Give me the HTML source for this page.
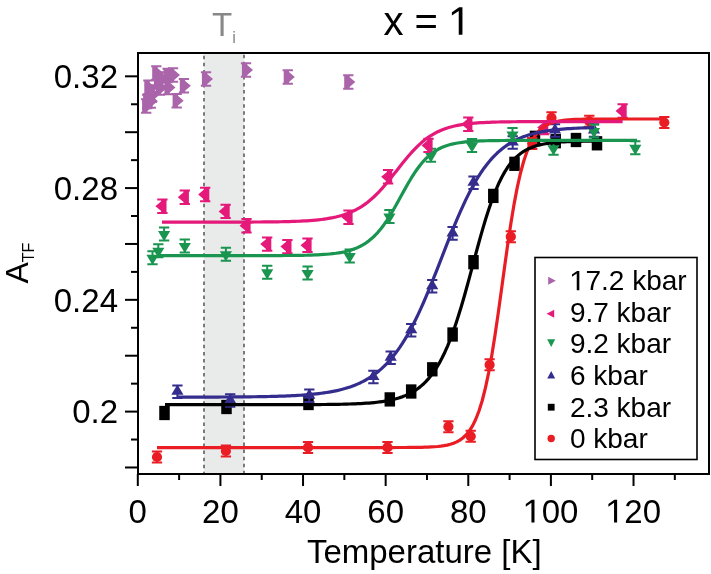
<!DOCTYPE html>
<html><head><meta charset="utf-8"><style>
html,body{margin:0;padding:0;background:#fff;}
body{width:711px;height:574px;overflow:hidden;}
svg{display:block;will-change:transform;}
text{font-family:"Liberation Sans",sans-serif;fill:#000;}
</style></head><body>
<svg width="711" height="574" viewBox="0 0 711 574">
<rect x="204.0" y="53" width="40.0" height="421" fill="#e9ebeb"/>
<line x1="204.0" y1="55.8" x2="204.0" y2="473" stroke="#7a7a7a" stroke-width="2" stroke-dasharray="3.5 3.55"/>
<line x1="244.0" y1="54.8" x2="244.0" y2="473" stroke="#7a7a7a" stroke-width="2" stroke-dasharray="3.5 3.55"/>
<rect x="138" y="53" width="571" height="421" fill="none" stroke="#000" stroke-width="2"/>
<line x1="125" y1="467.48" x2="138" y2="467.48" stroke="#000" stroke-width="2"/>
<line x1="131" y1="439.54" x2="138" y2="439.54" stroke="#000" stroke-width="2"/>
<line x1="125" y1="411.60" x2="138" y2="411.60" stroke="#000" stroke-width="2"/>
<line x1="131" y1="383.66" x2="138" y2="383.66" stroke="#000" stroke-width="2"/>
<line x1="125" y1="355.72" x2="138" y2="355.72" stroke="#000" stroke-width="2"/>
<line x1="131" y1="327.78" x2="138" y2="327.78" stroke="#000" stroke-width="2"/>
<line x1="125" y1="299.84" x2="138" y2="299.84" stroke="#000" stroke-width="2"/>
<line x1="131" y1="271.90" x2="138" y2="271.90" stroke="#000" stroke-width="2"/>
<line x1="125" y1="243.96" x2="138" y2="243.96" stroke="#000" stroke-width="2"/>
<line x1="131" y1="216.02" x2="138" y2="216.02" stroke="#000" stroke-width="2"/>
<line x1="125" y1="188.08" x2="138" y2="188.08" stroke="#000" stroke-width="2"/>
<line x1="131" y1="160.14" x2="138" y2="160.14" stroke="#000" stroke-width="2"/>
<line x1="125" y1="132.20" x2="138" y2="132.20" stroke="#000" stroke-width="2"/>
<line x1="131" y1="104.26" x2="138" y2="104.26" stroke="#000" stroke-width="2"/>
<line x1="125" y1="76.32" x2="138" y2="76.32" stroke="#000" stroke-width="2"/>
<line x1="137.80" y1="474" x2="137.80" y2="486" stroke="#000" stroke-width="2"/>
<line x1="179.11" y1="474" x2="179.11" y2="480" stroke="#000" stroke-width="2"/>
<line x1="220.42" y1="474" x2="220.42" y2="486" stroke="#000" stroke-width="2"/>
<line x1="261.73" y1="474" x2="261.73" y2="480" stroke="#000" stroke-width="2"/>
<line x1="303.04" y1="474" x2="303.04" y2="486" stroke="#000" stroke-width="2"/>
<line x1="344.35" y1="474" x2="344.35" y2="480" stroke="#000" stroke-width="2"/>
<line x1="385.66" y1="474" x2="385.66" y2="486" stroke="#000" stroke-width="2"/>
<line x1="426.97" y1="474" x2="426.97" y2="480" stroke="#000" stroke-width="2"/>
<line x1="468.28" y1="474" x2="468.28" y2="486" stroke="#000" stroke-width="2"/>
<line x1="509.59" y1="474" x2="509.59" y2="480" stroke="#000" stroke-width="2"/>
<line x1="550.90" y1="474" x2="550.90" y2="486" stroke="#000" stroke-width="2"/>
<line x1="592.21" y1="474" x2="592.21" y2="480" stroke="#000" stroke-width="2"/>
<line x1="633.52" y1="474" x2="633.52" y2="486" stroke="#000" stroke-width="2"/>
<line x1="674.83" y1="474" x2="674.83" y2="480" stroke="#000" stroke-width="2"/>
<rect x="159.25" y="405.85" width="10.5" height="14.3" fill="#000000"/>
<rect x="221.25" y="399.85" width="10.5" height="14.3" fill="#000000"/>
<rect x="303.25" y="395.85" width="10.5" height="14.3" fill="#000000"/>
<rect x="384.55" y="392.25" width="10.5" height="14.3" fill="#000000"/>
<rect x="405.95" y="384.35" width="10.5" height="14.3" fill="#000000"/>
<rect x="427.05" y="362.15" width="10.5" height="14.3" fill="#000000"/>
<rect x="447.35" y="327.35" width="10.5" height="14.3" fill="#000000"/>
<rect x="468.25" y="255.05" width="10.5" height="14.3" fill="#000000"/>
<rect x="488.05" y="188.75" width="10.5" height="14.3" fill="#000000"/>
<rect x="509.25" y="156.65" width="10.5" height="14.3" fill="#000000"/>
<rect x="550.45" y="134.05" width="10.5" height="14.3" fill="#000000"/>
<rect x="570.75" y="132.85" width="10.5" height="14.3" fill="#000000"/>
<rect x="591.75" y="136.15" width="10.5" height="14.3" fill="#000000"/>
<rect x="529.75" y="130.65" width="10.5" height="14.3" fill="#000000"/>
<path d="M151.85,451.50h10.30M151.85,462.50h10.30M157.00,451.50V462.50" stroke="#ea1c24" stroke-width="2.0" fill="none"/><circle cx="157.00" cy="457.00" r="5.1" fill="#ea1c24"/>
<path d="M220.75,445.50h10.30M220.75,456.50h10.30M225.90,445.50V456.50" stroke="#ea1c24" stroke-width="2.0" fill="none"/><circle cx="225.90" cy="451.00" r="5.1" fill="#ea1c24"/>
<path d="M302.85,441.90h10.30M302.85,452.90h10.30M308.00,441.90V452.90" stroke="#ea1c24" stroke-width="2.0" fill="none"/><circle cx="308.00" cy="447.40" r="5.1" fill="#ea1c24"/>
<path d="M382.35,441.90h10.30M382.35,452.90h10.30M387.50,441.90V452.90" stroke="#ea1c24" stroke-width="2.0" fill="none"/><circle cx="387.50" cy="447.40" r="5.1" fill="#ea1c24"/>
<path d="M443.25,421.20h10.30M443.25,432.20h10.30M448.40,421.20V432.20" stroke="#ea1c24" stroke-width="2.0" fill="none"/><circle cx="448.40" cy="426.70" r="5.1" fill="#ea1c24"/>
<path d="M465.55,430.80h10.30M465.55,441.80h10.30M470.70,430.80V441.80" stroke="#ea1c24" stroke-width="2.0" fill="none"/><circle cx="470.70" cy="436.30" r="5.1" fill="#ea1c24"/>
<path d="M484.45,359.30h10.30M484.45,370.30h10.30M489.60,359.30V370.30" stroke="#ea1c24" stroke-width="2.0" fill="none"/><circle cx="489.60" cy="364.80" r="5.1" fill="#ea1c24"/>
<path d="M505.65,231.20h10.30M505.65,242.20h10.30M510.80,231.20V242.20" stroke="#ea1c24" stroke-width="2.0" fill="none"/><circle cx="510.80" cy="236.70" r="5.1" fill="#ea1c24"/>
<path d="M527.05,138.00h10.30M527.05,149.00h10.30M532.20,138.00V149.00" stroke="#ea1c24" stroke-width="2.0" fill="none"/><circle cx="532.20" cy="143.50" r="5.1" fill="#ea1c24"/>
<path d="M546.35,112.30h10.30M546.35,123.30h10.30M551.50,112.30V123.30" stroke="#ea1c24" stroke-width="2.0" fill="none"/><circle cx="551.50" cy="117.80" r="5.1" fill="#ea1c24"/>
<path d="M584.15,115.80h10.30M584.15,126.80h10.30M589.30,115.80V126.80" stroke="#ea1c24" stroke-width="2.0" fill="none"/><circle cx="589.30" cy="121.30" r="5.1" fill="#ea1c24"/>
<path d="M659.15,117.00h10.30M659.15,128.00h10.30M664.30,117.00V128.00" stroke="#ea1c24" stroke-width="2.0" fill="none"/><circle cx="664.30" cy="122.50" r="5.1" fill="#ea1c24"/>
<path d="M172.25,385.50h10.30M172.25,398.10h10.30M177.40,385.50V398.10" stroke="#352d8d" stroke-width="2.0" fill="none"/><polygon points="177.40,384.60 171.30,394.80 183.50,394.80" fill="#352d8d"/>
<path d="M225.05,394.20h10.30M225.05,406.80h10.30M230.20,394.20V406.80" stroke="#352d8d" stroke-width="2.0" fill="none"/><polygon points="230.20,393.30 224.10,403.50 236.30,403.50" fill="#352d8d"/>
<path d="M304.15,389.50h10.30M304.15,402.10h10.30M309.30,389.50V402.10" stroke="#352d8d" stroke-width="2.0" fill="none"/><polygon points="309.30,388.60 303.20,398.80 315.40,398.80" fill="#352d8d"/>
<path d="M368.25,370.70h10.30M368.25,383.30h10.30M373.40,370.70V383.30" stroke="#352d8d" stroke-width="2.0" fill="none"/><polygon points="373.40,369.80 367.30,380.00 379.50,380.00" fill="#352d8d"/>
<path d="M385.55,351.50h10.30M385.55,364.10h10.30M390.70,351.50V364.10" stroke="#352d8d" stroke-width="2.0" fill="none"/><polygon points="390.70,350.60 384.60,360.80 396.80,360.80" fill="#352d8d"/>
<path d="M406.05,324.00h10.30M406.05,336.60h10.30M411.20,324.00V336.60" stroke="#352d8d" stroke-width="2.0" fill="none"/><polygon points="411.20,323.10 405.10,333.30 417.30,333.30" fill="#352d8d"/>
<path d="M427.05,279.90h10.30M427.05,292.50h10.30M432.20,279.90V292.50" stroke="#352d8d" stroke-width="2.0" fill="none"/><polygon points="432.20,279.00 426.10,289.20 438.30,289.20" fill="#352d8d"/>
<path d="M447.45,227.10h10.30M447.45,239.70h10.30M452.60,227.10V239.70" stroke="#352d8d" stroke-width="2.0" fill="none"/><polygon points="452.60,226.20 446.50,236.40 458.70,236.40" fill="#352d8d"/>
<path d="M468.35,176.50h10.30M468.35,189.10h10.30M473.50,176.50V189.10" stroke="#352d8d" stroke-width="2.0" fill="none"/><polygon points="473.50,175.60 467.40,185.80 479.60,185.80" fill="#352d8d"/>
<path d="M507.55,136.20h10.30M507.55,148.80h10.30M512.70,136.20V148.80" stroke="#352d8d" stroke-width="2.0" fill="none"/><polygon points="512.70,135.30 506.60,145.50 518.80,145.50" fill="#352d8d"/>
<path d="M549.85,124.20h10.30M549.85,136.80h10.30M555.00,124.20V136.80" stroke="#352d8d" stroke-width="2.0" fill="none"/><polygon points="555.00,123.30 548.90,133.50 561.10,133.50" fill="#352d8d"/>
<path d="M588.85,124.20h10.30M588.85,136.80h10.30M594.00,124.20V136.80" stroke="#352d8d" stroke-width="2.0" fill="none"/><polygon points="594.00,123.30 587.90,133.50 600.10,133.50" fill="#352d8d"/>
<path d="M147.35,251.30h10.30M147.35,264.30h10.30M152.50,251.30V264.30" stroke="#1a9550" stroke-width="2.0" fill="none"/><polygon points="152.50,265.00 146.40,254.80 158.60,254.80" fill="#1a9550"/>
<path d="M153.15,244.20h10.30M153.15,257.20h10.30M158.30,244.20V257.20" stroke="#1a9550" stroke-width="2.0" fill="none"/><polygon points="158.30,257.90 152.20,247.70 164.40,247.70" fill="#1a9550"/>
<path d="M158.95,227.50h10.30M158.95,240.50h10.30M164.10,227.50V240.50" stroke="#1a9550" stroke-width="2.0" fill="none"/><polygon points="164.10,241.20 158.00,231.00 170.20,231.00" fill="#1a9550"/>
<path d="M179.65,239.40h10.30M179.65,252.40h10.30M184.80,239.40V252.40" stroke="#1a9550" stroke-width="2.0" fill="none"/><polygon points="184.80,253.10 178.70,242.90 190.90,242.90" fill="#1a9550"/>
<path d="M220.75,247.70h10.30M220.75,260.70h10.30M225.90,247.70V260.70" stroke="#1a9550" stroke-width="2.0" fill="none"/><polygon points="225.90,261.40 219.80,251.20 232.00,251.20" fill="#1a9550"/>
<path d="M262.05,265.80h10.30M262.05,278.80h10.30M267.20,265.80V278.80" stroke="#1a9550" stroke-width="2.0" fill="none"/><polygon points="267.20,279.50 261.10,269.30 273.30,269.30" fill="#1a9550"/>
<path d="M302.45,266.40h10.30M302.45,279.40h10.30M307.60,266.40V279.40" stroke="#1a9550" stroke-width="2.0" fill="none"/><polygon points="307.60,280.10 301.50,269.90 313.70,269.90" fill="#1a9550"/>
<path d="M344.55,249.60h10.30M344.55,262.60h10.30M349.70,249.60V262.60" stroke="#1a9550" stroke-width="2.0" fill="none"/><polygon points="349.70,263.30 343.60,253.10 355.80,253.10" fill="#1a9550"/>
<path d="M384.25,209.90h10.30M384.25,222.90h10.30M389.40,209.90V222.90" stroke="#1a9550" stroke-width="2.0" fill="none"/><polygon points="389.40,223.60 383.30,213.40 395.50,213.40" fill="#1a9550"/>
<path d="M425.75,148.80h10.30M425.75,161.80h10.30M430.90,148.80V161.80" stroke="#1a9550" stroke-width="2.0" fill="none"/><polygon points="430.90,162.50 424.80,152.30 437.00,152.30" fill="#1a9550"/>
<path d="M466.85,138.90h10.30M466.85,151.90h10.30M472.00,138.90V151.90" stroke="#1a9550" stroke-width="2.0" fill="none"/><polygon points="472.00,152.60 465.90,142.40 478.10,142.40" fill="#1a9550"/>
<path d="M507.35,128.00h10.30M507.35,141.00h10.30M512.50,128.00V141.00" stroke="#1a9550" stroke-width="2.0" fill="none"/><polygon points="512.50,141.70 506.40,131.50 518.60,131.50" fill="#1a9550"/>
<path d="M548.35,141.70h10.30M548.35,154.70h10.30M553.50,141.70V154.70" stroke="#1a9550" stroke-width="2.0" fill="none"/><polygon points="553.50,155.40 547.40,145.20 559.60,145.20" fill="#1a9550"/>
<path d="M588.85,124.50h10.30M588.85,137.50h10.30M594.00,124.50V137.50" stroke="#1a9550" stroke-width="2.0" fill="none"/><polygon points="594.00,138.20 587.90,128.00 600.10,128.00" fill="#1a9550"/>
<path d="M630.15,141.20h10.30M630.15,154.20h10.30M635.30,141.20V154.20" stroke="#1a9550" stroke-width="2.0" fill="none"/><polygon points="635.30,154.90 629.20,144.70 641.40,144.70" fill="#1a9550"/>
<path d="M157.25,199.50h10.30M157.25,212.90h10.30M162.40,199.50V212.90" stroke="#e5197a" stroke-width="2.0" fill="none"/><polygon points="155.40,206.20 161.20,201.30 161.20,199.50 166.50,199.50 166.50,212.90 161.20,212.90 161.20,211.10" fill="#e5197a"/>
<path d="M179.65,190.50h10.30M179.65,203.90h10.30M184.80,190.50V203.90" stroke="#e5197a" stroke-width="2.0" fill="none"/><polygon points="177.80,197.20 183.60,192.30 183.60,190.50 188.90,190.50 188.90,203.90 183.60,203.90 183.60,202.10" fill="#e5197a"/>
<path d="M200.05,187.80h10.30M200.05,201.20h10.30M205.20,187.80V201.20" stroke="#e5197a" stroke-width="2.0" fill="none"/><polygon points="198.20,194.50 204.00,189.60 204.00,187.80 209.30,187.80 209.30,201.20 204.00,201.20 204.00,199.40" fill="#e5197a"/>
<path d="M220.45,204.70h10.30M220.45,218.10h10.30M225.60,204.70V218.10" stroke="#e5197a" stroke-width="2.0" fill="none"/><polygon points="218.60,211.40 224.40,206.50 224.40,204.70 229.70,204.70 229.70,218.10 224.40,218.10 224.40,216.30" fill="#e5197a"/>
<path d="M241.35,219.00h10.30M241.35,232.40h10.30M246.50,219.00V232.40" stroke="#e5197a" stroke-width="2.0" fill="none"/><polygon points="239.50,225.70 245.30,220.80 245.30,219.00 250.60,219.00 250.60,232.40 245.30,232.40 245.30,230.60" fill="#e5197a"/>
<path d="M262.05,237.40h10.30M262.05,250.80h10.30M267.20,237.40V250.80" stroke="#e5197a" stroke-width="2.0" fill="none"/><polygon points="260.20,244.10 266.00,239.20 266.00,237.40 271.30,237.40 271.30,250.80 266.00,250.80 266.00,249.00" fill="#e5197a"/>
<path d="M282.25,239.90h10.30M282.25,253.30h10.30M287.40,239.90V253.30" stroke="#e5197a" stroke-width="2.0" fill="none"/><polygon points="280.40,246.60 286.20,241.70 286.20,239.90 291.50,239.90 291.50,253.30 286.20,253.30 286.20,251.50" fill="#e5197a"/>
<path d="M302.35,238.60h10.30M302.35,252.00h10.30M307.50,238.60V252.00" stroke="#e5197a" stroke-width="2.0" fill="none"/><polygon points="300.50,245.30 306.30,240.40 306.30,238.60 311.60,238.60 311.60,252.00 306.30,252.00 306.30,250.20" fill="#e5197a"/>
<path d="M343.35,210.60h10.30M343.35,224.00h10.30M348.50,210.60V224.00" stroke="#e5197a" stroke-width="2.0" fill="none"/><polygon points="341.50,217.30 347.30,212.40 347.30,210.60 352.60,210.60 352.60,224.00 347.30,224.00 347.30,222.20" fill="#e5197a"/>
<path d="M382.95,170.10h10.30M382.95,183.50h10.30M388.10,170.10V183.50" stroke="#e5197a" stroke-width="2.0" fill="none"/><polygon points="381.10,176.80 386.90,171.90 386.90,170.10 392.20,170.10 392.20,183.50 386.90,183.50 386.90,181.70" fill="#e5197a"/>
<path d="M423.35,138.70h10.30M423.35,152.10h10.30M428.50,138.70V152.10" stroke="#e5197a" stroke-width="2.0" fill="none"/><polygon points="421.50,145.40 427.30,140.50 427.30,138.70 432.60,138.70 432.60,152.10 427.30,152.10 427.30,150.30" fill="#e5197a"/>
<path d="M463.15,117.50h10.30M463.15,130.90h10.30M468.30,117.50V130.90" stroke="#e5197a" stroke-width="2.0" fill="none"/><polygon points="461.30,124.20 467.10,119.30 467.10,117.50 472.40,117.50 472.40,130.90 467.10,130.90 467.10,129.10" fill="#e5197a"/>
<path d="M539.05,120.90h10.30M539.05,134.30h10.30M544.20,120.90V134.30" stroke="#e5197a" stroke-width="2.0" fill="none"/><polygon points="537.20,127.60 543.00,122.70 543.00,120.90 548.30,120.90 548.30,134.30 543.00,134.30 543.00,132.50" fill="#e5197a"/>
<path d="M617.45,104.30h10.30M617.45,117.70h10.30M622.60,104.30V117.70" stroke="#e5197a" stroke-width="2.0" fill="none"/><polygon points="615.60,111.00 621.40,106.10 621.40,104.30 626.70,104.30 626.70,117.70 621.40,117.70 621.40,115.90" fill="#e5197a"/>
<path d="M141.05,99.30h10.30M141.05,112.70h10.30M146.20,99.30V112.70" stroke="#aa64aa" stroke-width="2.0" fill="none"/><polygon points="153.20,106.00 147.40,101.10 147.40,99.30 142.10,99.30 142.10,112.70 147.40,112.70 147.40,110.90" fill="#aa64aa"/>
<path d="M142.05,94.80h10.30M142.05,108.20h10.30M147.20,94.80V108.20" stroke="#aa64aa" stroke-width="2.0" fill="none"/><polygon points="154.20,101.50 148.40,96.60 148.40,94.80 143.10,94.80 143.10,108.20 148.40,108.20 148.40,106.40" fill="#aa64aa"/>
<path d="M145.65,94.30h10.30M145.65,107.70h10.30M150.80,94.30V107.70" stroke="#aa64aa" stroke-width="2.0" fill="none"/><polygon points="157.80,101.00 152.00,96.10 152.00,94.30 146.70,94.30 146.70,107.70 152.00,107.70 152.00,105.90" fill="#aa64aa"/>
<path d="M146.85,88.50h10.30M146.85,101.90h10.30M152.00,88.50V101.90" stroke="#aa64aa" stroke-width="2.0" fill="none"/><polygon points="159.00,95.20 153.20,90.30 153.20,88.50 147.90,88.50 147.90,101.90 153.20,101.90 153.20,100.10" fill="#aa64aa"/>
<path d="M143.25,80.60h10.30M143.25,94.00h10.30M148.40,80.60V94.00" stroke="#aa64aa" stroke-width="2.0" fill="none"/><polygon points="155.40,87.30 149.60,82.40 149.60,80.60 144.30,80.60 144.30,94.00 149.60,94.00 149.60,92.20" fill="#aa64aa"/>
<path d="M144.85,85.30h10.30M144.85,98.70h10.30M150.00,85.30V98.70" stroke="#aa64aa" stroke-width="2.0" fill="none"/><polygon points="157.00,92.00 151.20,87.10 151.20,85.30 145.90,85.30 145.90,98.70 151.20,98.70 151.20,96.90" fill="#aa64aa"/>
<path d="M151.15,66.30h10.30M151.15,79.70h10.30M156.30,66.30V79.70" stroke="#aa64aa" stroke-width="2.0" fill="none"/><polygon points="163.30,73.00 157.50,68.10 157.50,66.30 152.20,66.30 152.20,79.70 157.50,79.70 157.50,77.90" fill="#aa64aa"/>
<path d="M152.85,75.30h10.30M152.85,88.70h10.30M158.00,75.30V88.70" stroke="#aa64aa" stroke-width="2.0" fill="none"/><polygon points="165.00,82.00 159.20,77.10 159.20,75.30 153.90,75.30 153.90,88.70 159.20,88.70 159.20,86.90" fill="#aa64aa"/>
<path d="M156.85,72.30h10.30M156.85,85.70h10.30M162.00,72.30V85.70" stroke="#aa64aa" stroke-width="2.0" fill="none"/><polygon points="169.00,79.00 163.20,74.10 163.20,72.30 157.90,72.30 157.90,85.70 163.20,85.70 163.20,83.90" fill="#aa64aa"/>
<path d="M162.45,68.80h10.30M162.45,82.20h10.30M167.60,68.80V82.20" stroke="#aa64aa" stroke-width="2.0" fill="none"/><polygon points="174.60,75.50 168.80,70.60 168.80,68.80 163.50,68.80 163.50,82.20 168.80,82.20 168.80,80.40" fill="#aa64aa"/>
<path d="M167.85,68.30h10.30M167.85,81.70h10.30M173.00,68.30V81.70" stroke="#aa64aa" stroke-width="2.0" fill="none"/><polygon points="180.00,75.00 174.20,70.10 174.20,68.30 168.90,68.30 168.90,81.70 174.20,81.70 174.20,79.90" fill="#aa64aa"/>
<path d="M163.35,80.80h10.30M163.35,94.20h10.30M168.50,80.80V94.20" stroke="#aa64aa" stroke-width="2.0" fill="none"/><polygon points="175.50,87.50 169.70,82.60 169.70,80.80 164.40,80.80 164.40,94.20 169.70,94.20 169.70,92.40" fill="#aa64aa"/>
<path d="M171.55,94.00h10.30M171.55,107.40h10.30M176.70,94.00V107.40" stroke="#aa64aa" stroke-width="2.0" fill="none"/><polygon points="183.70,100.70 177.90,95.80 177.90,94.00 172.60,94.00 172.60,107.40 177.90,107.40 177.90,105.60" fill="#aa64aa"/>
<path d="M178.75,79.10h10.30M178.75,92.50h10.30M183.90,79.10V92.50" stroke="#aa64aa" stroke-width="2.0" fill="none"/><polygon points="190.90,85.80 185.10,80.90 185.10,79.10 179.80,79.10 179.80,92.50 185.10,92.50 185.10,90.70" fill="#aa64aa"/>
<path d="M154.85,81.30h10.30M154.85,94.70h10.30M160.00,81.30V94.70" stroke="#aa64aa" stroke-width="2.0" fill="none"/><polygon points="167.00,88.00 161.20,83.10 161.20,81.30 155.90,81.30 155.90,94.70 161.20,94.70 161.20,92.90" fill="#aa64aa"/>
<path d="M200.85,72.30h10.30M200.85,85.70h10.30M206.00,72.30V85.70" stroke="#aa64aa" stroke-width="2.0" fill="none"/><polygon points="213.00,79.00 207.20,74.10 207.20,72.30 201.90,72.30 201.90,85.70 207.20,85.70 207.20,83.90" fill="#aa64aa"/>
<path d="M240.85,63.30h10.30M240.85,76.70h10.30M246.00,63.30V76.70" stroke="#aa64aa" stroke-width="2.0" fill="none"/><polygon points="253.00,70.00 247.20,65.10 247.20,63.30 241.90,63.30 241.90,76.70 247.20,76.70 247.20,74.90" fill="#aa64aa"/>
<path d="M282.65,70.30h10.30M282.65,83.70h10.30M287.80,70.30V83.70" stroke="#aa64aa" stroke-width="2.0" fill="none"/><polygon points="294.80,77.00 289.00,72.10 289.00,70.30 283.70,70.30 283.70,83.70 289.00,83.70 289.00,81.90" fill="#aa64aa"/>
<path d="M343.15,75.30h10.30M343.15,88.70h10.30M348.30,75.30V88.70" stroke="#aa64aa" stroke-width="2.0" fill="none"/><polygon points="355.30,82.00 349.50,77.10 349.50,75.30 344.20,75.30 344.20,88.70 349.50,88.70 349.50,86.90" fill="#aa64aa"/>
<path d="M157.00,447.55 L160.19,447.55 L163.38,447.55 L166.57,447.55 L169.75,447.55 L172.94,447.55 L176.13,447.55 L179.32,447.55 L182.51,447.55 L185.70,447.55 L188.89,447.55 L192.08,447.55 L195.26,447.55 L198.45,447.55 L201.64,447.55 L204.83,447.55 L208.02,447.55 L211.21,447.55 L214.40,447.55 L217.58,447.55 L220.77,447.55 L223.96,447.55 L227.15,447.55 L230.34,447.55 L233.53,447.55 L236.72,447.55 L239.91,447.55 L243.09,447.55 L246.28,447.55 L249.47,447.55 L252.66,447.55 L255.85,447.55 L259.04,447.55 L262.23,447.55 L265.42,447.55 L268.60,447.55 L271.79,447.55 L274.98,447.55 L278.17,447.55 L281.36,447.55 L284.55,447.55 L287.74,447.55 L290.92,447.55 L294.11,447.55 L297.30,447.55 L300.49,447.55 L303.68,447.55 L306.87,447.55 L310.06,447.55 L313.25,447.55 L316.43,447.55 L319.62,447.55 L322.81,447.55 L326.00,447.55 L329.19,447.55 L332.38,447.55 L335.57,447.55 L338.75,447.55 L341.94,447.55 L345.13,447.55 L348.32,447.55 L351.51,447.55 L354.70,447.55 L357.89,447.55 L361.08,447.55 L364.26,447.55 L367.45,447.55 L370.64,447.55 L373.83,447.55 L377.02,447.54 L380.21,447.54 L383.40,447.54 L386.58,447.54 L389.77,447.53 L392.96,447.53 L396.15,447.52 L399.34,447.51 L402.53,447.50 L405.72,447.49 L408.91,447.47 L412.09,447.44 L415.28,447.40 L418.47,447.35 L421.66,447.29 L424.85,447.20 L428.04,447.09 L431.23,446.94 L434.42,446.75 L437.60,446.49 L440.79,446.15 L443.98,445.69 L447.17,445.09 L450.36,444.30 L453.55,443.26 L456.74,441.89 L459.92,440.09 L463.11,437.74 L466.30,434.68 L469.49,430.70 L472.68,425.58 L475.87,419.04 L479.06,410.78 L482.25,400.49 L485.43,387.89 L488.62,372.80 L491.81,355.18 L495.00,335.23 L498.19,313.38 L501.38,290.35 L504.57,267.01 L507.75,244.29 L510.94,223.03 L514.13,203.86 L517.32,187.14 L520.51,172.97 L523.70,161.27 L526.89,151.80 L530.08,144.26 L533.26,138.33 L536.45,133.73 L539.64,130.18 L542.83,127.46 L546.02,125.39 L549.21,123.82 L552.40,122.63 L555.58,121.72 L558.77,121.04 L561.96,120.53 L565.15,120.15 L568.34,119.86 L571.53,119.64 L574.72,119.47 L577.91,119.35 L581.09,119.26 L584.28,119.19 L587.47,119.14 L590.66,119.10 L593.85,119.07 L597.04,119.04 L600.23,119.03 L603.42,119.02 L606.60,119.01 L609.79,119.00 L612.98,118.99 L616.17,118.99 L619.36,118.99 L622.55,118.98 L625.74,118.98 L628.92,118.98 L632.11,118.98 L635.30,118.98 L638.49,118.98 L641.68,118.98 L644.87,118.98 L648.06,118.98 L651.25,118.98 L654.43,118.98 L657.62,118.98 L660.81,118.98 L664.00,118.98" stroke="#ea1c24" stroke-width="3.2" fill="none" stroke-linejoin="round"/>
<path d="M165.00,404.70 L167.72,404.70 L170.43,404.70 L173.15,404.70 L175.87,404.70 L178.58,404.70 L181.30,404.70 L184.02,404.70 L186.74,404.70 L189.45,404.70 L192.17,404.70 L194.89,404.70 L197.60,404.70 L200.32,404.70 L203.04,404.70 L205.75,404.70 L208.47,404.70 L211.19,404.70 L213.91,404.70 L216.62,404.70 L219.34,404.70 L222.06,404.70 L224.77,404.70 L227.49,404.70 L230.21,404.70 L232.92,404.70 L235.64,404.70 L238.36,404.70 L241.08,404.70 L243.79,404.69 L246.51,404.69 L249.23,404.69 L251.94,404.69 L254.66,404.69 L257.38,404.69 L260.09,404.69 L262.81,404.69 L265.53,404.69 L268.25,404.68 L270.96,404.68 L273.68,404.68 L276.40,404.68 L279.11,404.67 L281.83,404.67 L284.55,404.67 L287.26,404.66 L289.98,404.66 L292.70,404.65 L295.42,404.64 L298.13,404.64 L300.85,404.63 L303.57,404.62 L306.28,404.61 L309.00,404.60 L311.72,404.58 L314.43,404.57 L317.15,404.55 L319.87,404.53 L322.58,404.50 L325.30,404.48 L328.02,404.45 L330.74,404.41 L333.45,404.38 L336.17,404.33 L338.89,404.28 L341.60,404.23 L344.32,404.16 L347.04,404.09 L349.75,404.01 L352.47,403.91 L355.19,403.81 L357.91,403.69 L360.62,403.55 L363.34,403.40 L366.06,403.22 L368.77,403.03 L371.49,402.80 L374.21,402.55 L376.92,402.26 L379.64,401.93 L382.36,401.56 L385.08,401.13 L387.79,400.66 L390.51,400.12 L393.23,399.50 L395.94,398.81 L398.66,398.02 L401.38,397.13 L404.09,396.12 L406.81,394.98 L409.53,393.69 L412.25,392.23 L414.96,390.59 L417.68,388.73 L420.40,386.64 L423.11,384.28 L425.83,381.64 L428.55,378.67 L431.26,375.35 L433.98,371.63 L436.70,367.49 L439.42,362.90 L442.13,357.81 L444.85,352.20 L447.57,346.05 L450.28,339.34 L453.00,332.07 L455.72,324.23 L458.43,315.86 L461.15,306.99 L463.87,297.68 L466.58,288.00 L469.30,278.06 L472.02,267.95 L474.74,257.81 L477.45,247.75 L480.17,237.89 L482.89,228.37 L485.60,219.27 L488.32,210.68 L491.04,202.68 L493.75,195.29 L496.47,188.54 L499.19,182.44 L501.91,176.97 L504.62,172.10 L507.34,167.80 L510.06,164.03 L512.77,160.74 L515.49,157.87 L518.21,155.40 L520.92,153.26 L523.64,151.43 L526.36,149.86 L529.08,148.51 L531.79,147.37 L534.51,146.39 L537.23,145.56 L539.94,144.86 L542.66,144.26 L545.38,143.75 L548.09,143.33 L550.81,142.96 L553.53,142.66 L556.25,142.40 L558.96,142.18 L561.68,141.99 L564.40,141.83 L567.11,141.70 L569.83,141.59 L572.55,141.50 L575.26,141.42 L577.98,141.35 L580.70,141.29 L583.42,141.24 L586.13,141.20 L588.85,141.17 L591.57,141.14 L594.28,141.12 L597.00,141.10" stroke="#000000" stroke-width="3.2" fill="none" stroke-linejoin="round"/>
<path d="M177.00,397.13 L179.62,397.12 L182.25,397.12 L184.87,397.12 L187.49,397.11 L190.11,397.11 L192.74,397.11 L195.36,397.10 L197.98,397.10 L200.60,397.09 L203.23,397.09 L205.85,397.08 L208.47,397.07 L211.09,397.06 L213.72,397.06 L216.34,397.05 L218.96,397.04 L221.58,397.02 L224.21,397.01 L226.83,397.00 L229.45,396.98 L232.08,396.97 L234.70,396.95 L237.32,396.93 L239.94,396.91 L242.57,396.89 L245.19,396.86 L247.81,396.84 L250.43,396.81 L253.06,396.77 L255.68,396.74 L258.30,396.70 L260.92,396.66 L263.55,396.61 L266.17,396.56 L268.79,396.50 L271.42,396.44 L274.04,396.37 L276.66,396.30 L279.28,396.22 L281.91,396.13 L284.53,396.04 L287.15,395.94 L289.77,395.82 L292.40,395.70 L295.02,395.56 L297.64,395.41 L300.26,395.25 L302.89,395.07 L305.51,394.88 L308.13,394.67 L310.75,394.44 L313.38,394.19 L316.00,393.91 L318.62,393.61 L321.25,393.28 L323.87,392.92 L326.49,392.53 L329.11,392.10 L331.74,391.63 L334.36,391.12 L336.98,390.57 L339.60,389.96 L342.23,389.30 L344.85,388.58 L347.47,387.79 L350.09,386.94 L352.72,386.01 L355.34,384.99 L357.96,383.89 L360.58,382.69 L363.21,381.39 L365.83,379.97 L368.45,378.44 L371.08,376.77 L373.70,374.97 L376.32,373.02 L378.94,370.91 L381.57,368.63 L384.19,366.17 L386.81,363.53 L389.43,360.68 L392.06,357.63 L394.68,354.36 L397.30,350.86 L399.92,347.12 L402.55,343.15 L405.17,338.92 L407.79,334.45 L410.42,329.73 L413.04,324.76 L415.66,319.54 L418.28,314.09 L420.91,308.41 L423.53,302.52 L426.15,296.42 L428.77,290.16 L431.40,283.74 L434.02,277.19 L436.64,270.55 L439.26,263.85 L441.89,257.11 L444.51,250.38 L447.13,243.68 L449.75,237.05 L452.38,230.53 L455.00,224.14 L457.62,217.91 L460.25,211.87 L462.87,206.04 L465.49,200.44 L468.11,195.08 L470.74,189.98 L473.36,185.14 L475.98,180.57 L478.60,176.27 L481.23,172.23 L483.85,168.46 L486.47,164.94 L489.09,161.68 L491.72,158.65 L494.34,155.85 L496.96,153.28 L499.58,150.90 L502.21,148.72 L504.83,146.72 L507.45,144.89 L510.08,143.22 L512.70,141.70 L515.32,140.31 L517.94,139.04 L520.57,137.89 L523.19,136.85 L525.81,135.90 L528.43,135.04 L531.06,134.26 L533.68,133.56 L536.30,132.92 L538.92,132.34 L541.55,131.82 L544.17,131.34 L546.79,130.92 L549.42,130.53 L552.04,130.19 L554.66,129.87 L557.28,129.59 L559.91,129.33 L562.53,129.10 L565.15,128.90 L567.77,128.71 L570.40,128.54 L573.02,128.39 L575.64,128.25 L578.26,128.13 L580.89,128.02 L583.51,127.92 L586.13,127.83 L588.75,127.74 L591.38,127.67 L594.00,127.60" stroke="#352d8d" stroke-width="3.2" fill="none" stroke-linejoin="round"/>
<path d="M158.00,255.65 L161.01,255.65 L164.03,255.65 L167.04,255.65 L170.05,255.65 L173.06,255.65 L176.08,255.65 L179.09,255.65 L182.10,255.65 L185.11,255.65 L188.13,255.65 L191.14,255.65 L194.15,255.65 L197.16,255.65 L200.18,255.65 L203.19,255.65 L206.20,255.65 L209.21,255.65 L212.23,255.64 L215.24,255.64 L218.25,255.64 L221.26,255.64 L224.28,255.64 L227.29,255.64 L230.30,255.64 L233.31,255.64 L236.33,255.64 L239.34,255.64 L242.35,255.64 L245.36,255.63 L248.38,255.63 L251.39,255.63 L254.40,255.62 L257.42,255.62 L260.43,255.62 L263.44,255.61 L266.45,255.60 L269.47,255.59 L272.48,255.58 L275.49,255.57 L278.50,255.56 L281.52,255.54 L284.53,255.52 L287.54,255.50 L290.55,255.47 L293.57,255.44 L296.58,255.40 L299.59,255.35 L302.60,255.29 L305.62,255.23 L308.63,255.15 L311.64,255.05 L314.65,254.94 L317.67,254.81 L320.68,254.65 L323.69,254.46 L326.70,254.24 L329.72,253.97 L332.73,253.65 L335.74,253.28 L338.75,252.84 L341.77,252.32 L344.78,251.70 L347.79,250.97 L350.81,250.11 L353.82,249.09 L356.83,247.91 L359.84,246.52 L362.86,244.90 L365.87,243.02 L368.88,240.85 L371.89,238.35 L374.91,235.51 L377.92,232.30 L380.93,228.69 L383.94,224.69 L386.96,220.32 L389.97,215.58 L392.98,210.55 L395.99,205.27 L399.01,199.83 L402.02,194.33 L405.03,188.87 L408.04,183.54 L411.06,178.45 L414.07,173.66 L417.08,169.23 L420.09,165.19 L423.11,161.58 L426.12,158.38 L429.13,155.57 L432.14,153.14 L435.16,151.06 L438.17,149.28 L441.18,147.78 L444.19,146.51 L447.21,145.45 L450.22,144.57 L453.23,143.83 L456.25,143.22 L459.26,142.72 L462.27,142.30 L465.28,141.95 L468.30,141.67 L471.31,141.44 L474.32,141.25 L477.33,141.09 L480.35,140.96 L483.36,140.85 L486.37,140.76 L489.38,140.69 L492.40,140.63 L495.41,140.59 L498.42,140.55 L501.43,140.52 L504.45,140.49 L507.46,140.47 L510.47,140.45 L513.48,140.43 L516.50,140.42 L519.51,140.41 L522.52,140.41 L525.53,140.40 L528.55,140.39 L531.56,140.39 L534.57,140.39 L537.58,140.38 L540.60,140.38 L543.61,140.38 L546.62,140.38 L549.64,140.38 L552.65,140.37 L555.66,140.37 L558.67,140.37 L561.69,140.37 L564.70,140.37 L567.71,140.37 L570.72,140.37 L573.74,140.37 L576.75,140.37 L579.76,140.37 L582.77,140.37 L585.79,140.37 L588.80,140.37 L591.81,140.37 L594.82,140.37 L597.84,140.37 L600.85,140.37 L603.86,140.37 L606.87,140.37 L609.89,140.37 L612.90,140.37 L615.91,140.37 L618.92,140.37 L621.94,140.37 L624.95,140.37 L627.96,140.37 L630.97,140.37 L633.99,140.37 L637.00,140.37" stroke="#1a9550" stroke-width="3.2" fill="none" stroke-linejoin="round"/>
<path d="M162.00,222.14 L164.90,222.13 L167.79,222.13 L170.69,222.13 L173.59,222.13 L176.48,222.13 L179.38,222.13 L182.28,222.13 L185.17,222.13 L188.07,222.13 L190.97,222.13 L193.87,222.13 L196.76,222.13 L199.66,222.13 L202.56,222.13 L205.45,222.12 L208.35,222.12 L211.25,222.12 L214.14,222.12 L217.04,222.12 L219.94,222.11 L222.83,222.11 L225.73,222.11 L228.63,222.10 L231.52,222.10 L234.42,222.09 L237.32,222.08 L240.22,222.08 L243.11,222.07 L246.01,222.06 L248.91,222.04 L251.80,222.03 L254.70,222.02 L257.60,222.00 L260.49,221.98 L263.39,221.96 L266.29,221.93 L269.18,221.90 L272.08,221.87 L274.98,221.83 L277.87,221.78 L280.77,221.73 L283.67,221.67 L286.56,221.61 L289.46,221.53 L292.36,221.44 L295.26,221.34 L298.15,221.23 L301.05,221.10 L303.95,220.95 L306.84,220.78 L309.74,220.58 L312.64,220.36 L315.53,220.11 L318.43,219.82 L321.33,219.49 L324.22,219.11 L327.12,218.69 L330.02,218.20 L332.91,217.65 L335.81,217.02 L338.71,216.31 L341.61,215.51 L344.50,214.60 L347.40,213.58 L350.30,212.43 L353.19,211.14 L356.09,209.70 L358.99,208.10 L361.88,206.32 L364.78,204.35 L367.68,202.18 L370.57,199.82 L373.47,197.25 L376.37,194.48 L379.26,191.51 L382.16,188.36 L385.06,185.04 L387.95,181.58 L390.85,178.01 L393.75,174.35 L396.65,170.66 L399.54,166.97 L402.44,163.31 L405.34,159.73 L408.23,156.27 L411.13,152.95 L414.03,149.81 L416.92,146.86 L419.82,144.11 L422.72,141.58 L425.61,139.26 L428.51,137.16 L431.41,135.26 L434.30,133.56 L437.20,132.04 L440.10,130.69 L442.99,129.50 L445.89,128.45 L448.79,127.53 L451.69,126.73 L454.58,126.03 L457.48,125.42 L460.38,124.89 L463.27,124.43 L466.17,124.03 L469.07,123.68 L471.96,123.39 L474.86,123.13 L477.76,122.91 L480.65,122.72 L483.55,122.55 L486.45,122.41 L489.34,122.29 L492.24,122.18 L495.14,122.09 L498.04,122.02 L500.93,121.95 L503.83,121.89 L506.73,121.84 L509.62,121.80 L512.52,121.77 L515.42,121.74 L518.31,121.71 L521.21,121.69 L524.11,121.67 L527.00,121.65 L529.90,121.64 L532.80,121.62 L535.69,121.61 L538.59,121.60 L541.49,121.60 L544.38,121.59 L547.28,121.58 L550.18,121.58 L553.08,121.57 L555.97,121.57 L558.87,121.57 L561.77,121.56 L564.66,121.56 L567.56,121.56 L570.46,121.56 L573.35,121.56 L576.25,121.56 L579.15,121.55 L582.04,121.55 L584.94,121.55 L587.84,121.55 L590.73,121.55 L593.63,121.55 L596.53,121.55 L599.43,121.55 L602.32,121.55 L605.22,121.55 L608.12,121.55 L611.01,121.55 L613.91,121.55 L616.81,121.55 L619.70,121.55 L622.60,121.55" stroke="#e5197a" stroke-width="3.2" fill="none" stroke-linejoin="round"/>
<rect x="535" y="257.5" width="162" height="202.0" fill="#fff" stroke="#000" stroke-width="1.6"/>
<polygon points="548.20,276.70 548.20,284.70 555.80,280.70" fill="#aa64aa"/>
<polygon points="576.74,290.20 576.74,273.52 571.95,276.73 571.95,274.48 577.01,270.94 579.33,270.94 579.33,290.20" fill="#000"/><text x="585.47" y="290.20" font-size="28">7.2 kbar</text>
<polygon points="554.20,309.80 554.20,317.80 546.60,313.80" fill="#e5197a"/>
<text x="569.90" y="321.84" font-size="28">9.7 kbar</text>
<polygon points="547.20,339.30 555.20,339.30 551.20,346.90" fill="#1a9550"/>
<text x="569.90" y="353.48" font-size="28">9.2 kbar</text>
<polygon points="547.20,378.60 555.20,378.60 551.20,371.00" fill="#352d8d"/>
<text x="569.90" y="385.12" font-size="28">6 kbar</text>
<rect x="547.8000000000001" y="403.8" width="6.8" height="6.8" fill="#000000"/>
<text x="569.90" y="416.76" font-size="28">2.3 kbar</text>
<circle cx="551.2" cy="438.5" r="3.7" fill="#ea1c24"/>
<text x="569.90" y="448.40" font-size="28">0 kbar</text>
<text x="118" y="88.12" font-size="33" text-anchor="end">0.32</text>
<text x="118" y="199.88" font-size="33" text-anchor="end">0.28</text>
<text x="118" y="311.64" font-size="33" text-anchor="end">0.24</text>
<text x="118" y="423.40" font-size="33" text-anchor="end">0.2</text>
<text x="128.62" y="522.50" font-size="33">0</text>
<text x="202.07" y="522.50" font-size="33">20</text>
<text x="284.69" y="522.50" font-size="33">40</text>
<text x="367.31" y="522.50" font-size="33">60</text>
<text x="449.93" y="522.50" font-size="33">80</text>
<polygon points="531.43,522.50 531.43,502.84 525.79,506.63 525.79,503.97 531.75,499.80 534.49,499.80 534.49,522.50" fill="#000"/><text x="541.72" y="522.50" font-size="33">00</text>
<polygon points="614.05,522.50 614.05,502.84 608.41,506.63 608.41,503.97 614.37,499.80 617.11,499.80 617.11,522.50" fill="#000"/><text x="624.34" y="522.50" font-size="33">20</text>
<text x="424.3" y="563.2" font-size="33" text-anchor="middle">Temperature [K]</text>
<text x="383.38" y="34.80" font-size="40">x = </text><polygon points="458.74,34.80 458.74,10.97 451.90,15.56 451.90,12.34 459.13,7.28 462.45,7.28 462.45,34.80" fill="#000"/>
<text x="212" y="36" font-size="33" style="fill:#888">T<tspan font-size="16.5" dy="6.7" dx="0">i</tspan></text>
<g transform="translate(27.9,283.5) rotate(-90)"><text x="0" y="0" font-size="32">A<tspan font-size="16" dy="6.3">TF</tspan></text></g>
</svg>
</body></html>
